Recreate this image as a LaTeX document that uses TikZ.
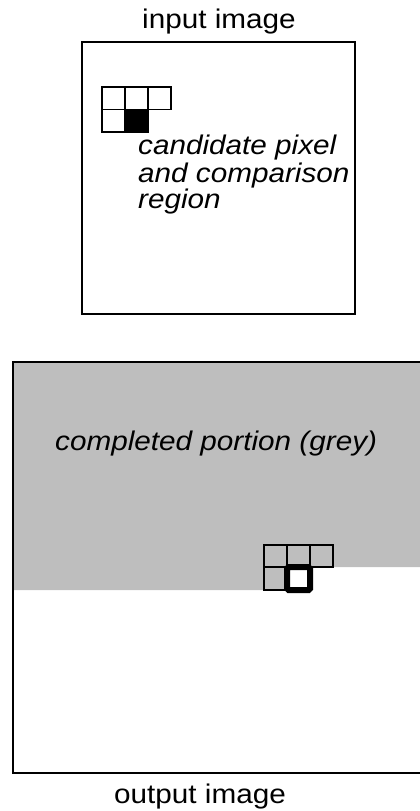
\documentclass[tikz,border=0pt]{standalone}
\usepackage{fontspec}
\setmainfont{Liberation Sans}[FakeStretch=1.1]
\definecolor{donegrey}{RGB}{190,190,190}
\begin{document}
\begin{tikzpicture}[x=1pt,y=-1pt,
  lbl/.style={inner sep=0, font=\fontsize{27}{29}\selectfont},
  ilbl/.style={inner sep=0, font=\fontsize{27}{29}\selectfont\itshape},
  frame/.style={line width=2.7pt},
  cell/.style={line width=1.3pt},
  cand/.style={line width=6pt, rounded corners=1.5pt, fill=white}]
\useasboundingbox (0,0) rectangle (420,811);
% ---------- input image ----------
\node[lbl, anchor=base] (tin) at (219,28) {input image};
\draw[frame] (82,42) rectangle (355,314);
\draw[cell] (102,87) rectangle (125,109.5);
\draw[cell] (125,87) rectangle (148,109.5);
\draw[cell] (148,87) rectangle (171,109.5);
\draw[cell] (102,109.5) rectangle (125,132);
\draw[cell, fill=black] (125,109.5) rectangle (148,132);
\node[ilbl, anchor=base west] (c1) at (138,154) {candidate pixel};
\node[ilbl, anchor=base west] (c2) at (138,182) {and comparison};
\node[ilbl, anchor=base west] (c3) at (138,208) {region};
% ---------- output image ----------
\fill[donegrey] (13,362) -- (420,362) -- (420,567) -- (287,567) -- (287,590) -- (13,590) -- cycle;
\node[ilbl, anchor=base west] (tgrey) at (55,450) {completed portion (grey)};
\draw[cell] (264,545) rectangle (287,567);
\draw[cell] (287,545) rectangle (310,567);
\draw[cell] (310,545) rectangle (333,567);
\draw[cell] (264,567) rectangle (287,590);
\draw[cand] (287,567) rectangle (310,590);
\draw[frame] (420,362) -- (13,362) -- (13,773) -- (420,773);
\node[lbl, anchor=base] (tout) at (200,803) {output image};
\end{tikzpicture}
\end{document}
